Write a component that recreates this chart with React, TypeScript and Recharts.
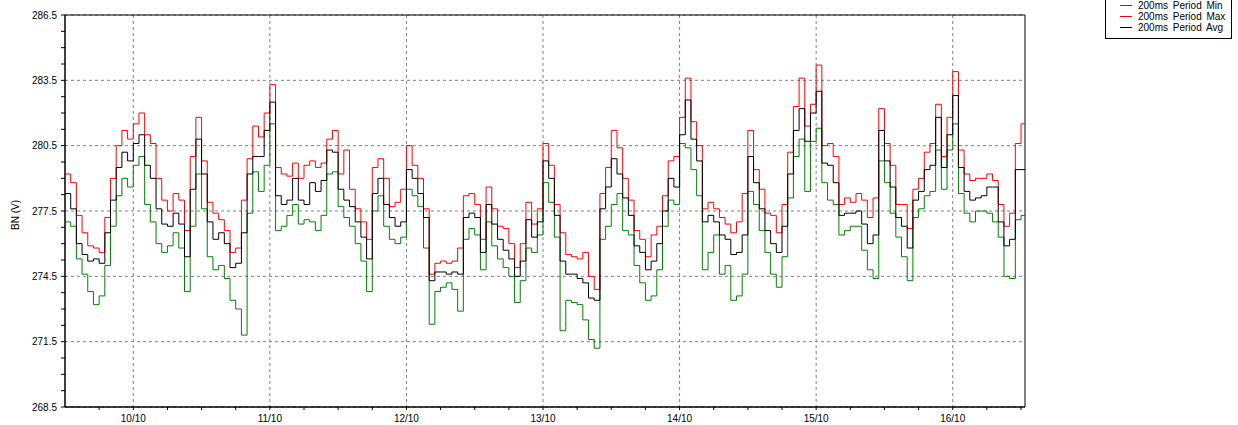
import React from 'react';
import { LineChart, Line, XAxis, YAxis, CartesianGrid, ReferenceArea } from 'recharts';

// Hourly readings, starting 9/10 12:00 (hour 12 counted from 9/10 00:00)
const START_HOUR = 12;

const avgValues = [
  278.3, 277.6, 276.0, 275.5, 275.2, 275.3, 275.1, 276.5, 278.0, 279.5,
  280.2, 279.8, 280.6, 281.0, 279.6, 279.0, 277.6, 276.9, 276.8, 277.4,
  276.9, 275.4, 278.5, 280.8, 279.2, 277.0, 276.2, 276.5, 276.0, 274.9,
  275.1, 276.5, 279.2, 280.0, 280.0, 281.2, 282.5, 278.2, 277.8, 278.0,
  279.0, 278.0, 277.8, 278.8, 278.4, 278.9, 280.3, 280.2, 278.5, 278.0,
  277.7, 277.0, 276.3, 275.3, 278.3, 279.0, 277.8, 277.2, 276.8, 277.0,
  279.4, 279.0, 278.3, 277.2, 274.3, 274.7, 274.7, 274.6, 274.7, 274.6,
  277.2, 277.4, 277.2, 275.6, 277.8, 276.9, 276.2, 275.7, 275.3, 274.5,
  275.2, 277.1, 276.3, 277.0, 279.8, 279.0, 277.3, 275.2, 274.6, 274.6,
  274.4, 274.2, 273.5, 273.4, 277.6, 278.6, 279.9, 279.2, 278.1, 277.3,
  275.9, 275.6, 274.8, 275.2, 276.0, 277.5, 279.0, 278.6, 281.0, 282.6,
  280.8, 279.8, 277.0, 277.3, 277.0, 276.4, 276.2, 275.5, 275.6, 276.4,
  280.0, 278.8, 277.6, 276.6, 276.0, 275.6, 276.8, 279.2, 281.2, 282.2,
  280.7, 282.0, 283.0, 279.7, 279.6, 278.8, 277.3, 277.4, 277.4, 277.5,
  276.9, 276.0, 276.4, 281.2, 279.8, 278.6, 277.2, 276.8, 275.8, 278.0,
  278.4, 279.4, 279.6, 281.8, 279.5, 281.0, 282.8, 279.5, 278.4, 278.0,
  278.1, 278.2, 278.6, 278.6, 277.0, 275.9, 276.2, 279.4, 279.4, 279.2,
];

const maxValues = [
  279.2, 278.8, 277.3, 276.5, 275.9, 275.8, 275.6, 277.2, 279.0, 280.5,
  281.2, 280.8, 281.5, 282.0, 281.0, 280.6, 279.0, 278.0, 277.5, 278.3,
  278.0, 276.6, 280.0, 281.8, 279.8, 277.9, 277.4, 277.1, 276.6, 275.6,
  275.8, 278.0, 279.9, 281.4, 280.9, 282.0, 283.3, 279.5, 279.2, 279.1,
  279.7, 279.0, 279.6, 279.8, 279.5, 279.7, 280.8, 281.2, 279.2, 280.3,
  278.5, 277.6, 277.0, 276.2, 279.5, 279.9, 279.0, 277.7, 277.9, 278.5,
  280.5, 279.6, 279.0, 277.6, 274.6, 275.1, 275.2, 275.1, 275.2, 275.8,
  278.2, 278.3, 277.8, 276.2, 278.6, 277.6, 276.8, 276.7, 276.0, 274.9,
  276.0, 277.9, 276.9, 277.6, 280.6, 279.6, 277.8, 276.5, 275.5, 275.4,
  275.3, 275.6, 274.5, 273.9, 278.3, 279.5, 281.2, 280.4, 279.0, 278.0,
  276.6, 276.2, 275.4, 276.4, 276.8, 278.2, 279.8, 280.0, 281.8, 283.6,
  281.6, 280.5, 277.6, 277.9, 277.6, 277.2, 276.9, 276.5, 277.0, 278.3,
  281.2, 279.4, 278.5, 277.4, 277.3, 276.5, 277.8, 280.2, 282.3, 283.6,
  281.4, 282.4, 284.2, 280.5, 280.6, 280.0, 277.8, 278.1, 277.9, 278.3,
  278.0, 277.2, 278.1, 282.2, 280.6, 279.6, 277.8, 277.8, 276.7, 278.5,
  279.0, 280.2, 280.6, 282.4, 280.0, 281.8, 283.9, 280.3, 279.2, 278.9,
  279.0, 279.0, 279.2, 278.9, 277.8, 276.8, 277.4, 280.6, 281.5, 281.6,
];

const minValues = [
  277.0, 276.8, 275.3, 274.6, 273.8, 273.2, 273.6, 275.0, 276.8, 278.2,
  279.0, 278.6, 279.6, 280.0, 277.8, 277.0, 276.0, 275.6, 275.9, 276.5,
  275.8, 273.8, 276.8, 279.2, 277.6, 275.4, 274.8, 275.0, 274.4, 273.4,
  273.0, 271.8, 277.4, 279.3, 278.4, 279.6, 281.5, 276.6, 276.8, 277.3,
  277.8, 276.9, 277.1, 277.0, 276.6, 277.3, 279.2, 279.3, 277.7, 277.2,
  276.8, 276.0, 275.2, 273.8, 277.5, 278.2, 276.8, 276.2, 276.0, 276.3,
  278.5, 278.2, 277.7, 275.8, 272.3, 273.8, 274.0, 274.2, 273.9, 272.9,
  276.2, 276.7, 276.4, 274.8, 277.0, 275.9, 275.3, 274.9, 274.5, 273.3,
  274.3, 275.8, 275.6, 276.4, 278.8, 277.9, 276.3, 272.0, 273.4, 273.3,
  273.2, 272.5, 271.6, 271.2, 276.2, 276.8, 277.8, 278.3, 276.6, 276.4,
  275.0, 274.2, 273.4, 273.6, 274.8, 276.8, 278.0, 277.8, 280.6, 280.4,
  279.4, 278.2, 274.8, 275.6, 276.4, 274.6, 275.0, 273.4, 273.6, 274.6,
  278.4, 277.8, 276.6, 275.6, 274.6, 274.0, 275.4, 278.1, 280.0, 280.8,
  278.4, 280.7, 281.3, 278.8, 278.0, 277.8, 276.4, 276.6, 276.8, 276.8,
  275.7, 274.8, 274.4, 279.8, 278.8, 277.4, 276.3, 275.4, 274.3, 277.2,
  277.6, 278.2, 278.4, 280.3, 278.5, 280.3, 281.5, 278.3, 277.4, 277.0,
  277.5, 277.5, 277.4, 277.0, 276.3, 274.5, 274.4, 277.1, 277.3, 277.0,
];

const xDomain = [12, 180.7];
const xTicks = [18, 24, 30, 36, 42, 48, 54, 60, 66, 72, 78, 84, 90, 96, 102, 108, 114, 120, 126, 132, 138, 144, 150, 156, 162, 168, 174, 180];
const dayTickHours = [24, 48, 72, 96, 120, 144, 168];
const dayTickLabels = ['10/10', '11/10', '12/10', '13/10', '14/10', '15/10', '16/10'];

const yDomain = [268.5, 286.5];
const yTicks = [268.5, 269.25, 270, 270.75, 271.5, 272.25, 273, 273.75, 274.5, 275.25, 276, 276.75, 277.5, 278.25, 279, 279.75, 280.5, 281.25, 282, 282.75, 283.5, 284.25, 285, 285.75, 286.5];
const yMajorTicks = [268.5, 271.5, 274.5, 277.5, 280.5, 283.5, 286.5];

const seriesKeys = ['min', 'max', 'avg'];
const seriesNames = ['200ms Period Min', '200ms Period Max', '200ms Period Avg'];
const seriesColors = ['#008000', '#ff0000', '#000000'];

const data = avgValues.map((avg, i) => ({
  hour: START_HOUR + i,
  avg,
  max: maxValues[i],
  min: minValues[i],
}));

const FONT = '"Liberation Sans", Arial, sans-serif';

const YLabel = (props: any) => {
  const vb = props.viewBox || {};
  const cx = (vb.x || 0) + 15;
  const cy = (vb.y || 0) + (vb.height || 0) / 2 + 4;
  return (
    <text x={cx} y={cy} transform={`rotate(-90, ${cx}, ${cy})`} textAnchor="middle" dominantBaseline="central" fontSize={10} fill="#000" fontFamily={FONT}>
      BN (V)
    </text>
  );
};

export default function App() {
  return (
    <div style={{ position: 'absolute', left: 0, top: 0, width: 1238, height: 425, background: '#fff', fontFamily: FONT }}>
      <LineChart width={1238} height={425} data={data} margin={{ top: 15, right: 213, bottom: 0, left: 0 }}>
        <CartesianGrid
          stroke="#808080"
          strokeDasharray="3 3"
          verticalValues={dayTickHours}
          horizontalValues={yMajorTicks}
        />
        <XAxis
          dataKey="hour"
          type="number"
          domain={xDomain}
          allowDataOverflow
          ticks={xTicks}
          interval={0}
          tickFormatter={(v: number) => {
            const i = dayTickHours.indexOf(v);
            return i >= 0 ? dayTickLabels[i] : '';
          }}
          tickSize={3}
          tickMargin={5}
          height={18}
          tick={{ fontSize: 10, fill: '#000', fontFamily: FONT }}
          stroke="#000"
        />
        <YAxis
          type="number"
          domain={yDomain}
          allowDataOverflow
          ticks={yTicks}
          interval={0}
          tickFormatter={(v: number) => (yMajorTicks.indexOf(v) >= 0 ? v.toFixed(1) : '')}
          tickSize={4}
          tickMargin={4}
          width={65}
          tick={{ fontSize: 10, fill: '#000', fontFamily: FONT }}
          stroke="#000"
          label={<YLabel />}
        />
        <ReferenceArea x1={xDomain[0]} x2={xDomain[1]} y1={yDomain[0]} y2={yDomain[1]} fill="none" stroke="#000" strokeWidth={1} ifOverflow="visible" />
        {seriesKeys.map((k, i) => (
          <Line
            key={k}
            type="stepAfter"
            dataKey={k}
            name={seriesNames[i]}
            stroke={seriesColors[i]}
            strokeWidth={1}
            dot={false}
            activeDot={false}
            isAnimationActive={false}
          />
        ))}
      </LineChart>
      <div
        style={{
          position: 'absolute',
          left: 1105,
          top: -1,
          width: 127,
          height: 40,
          border: '1px solid #000',
          background: '#fff',
          boxSizing: 'border-box',
          paddingTop: 0,
        }}
      >
        {seriesNames.map((n, i) => (
          <div key={n} style={{ position: 'relative', height: 11.2, lineHeight: '11.2px', fontSize: 10, fontFamily: FONT, color: '#000', whiteSpace: 'nowrap' }}>
            <span style={{ position: 'absolute', left: 14, top: 5, width: 12, height: 1, background: seriesColors[i] }} />
            <span style={{ position: 'absolute', left: 32, top: 0, wordSpacing: 2 }}>{n}</span>
          </div>
        ))}
      </div>
    </div>
  );
}
